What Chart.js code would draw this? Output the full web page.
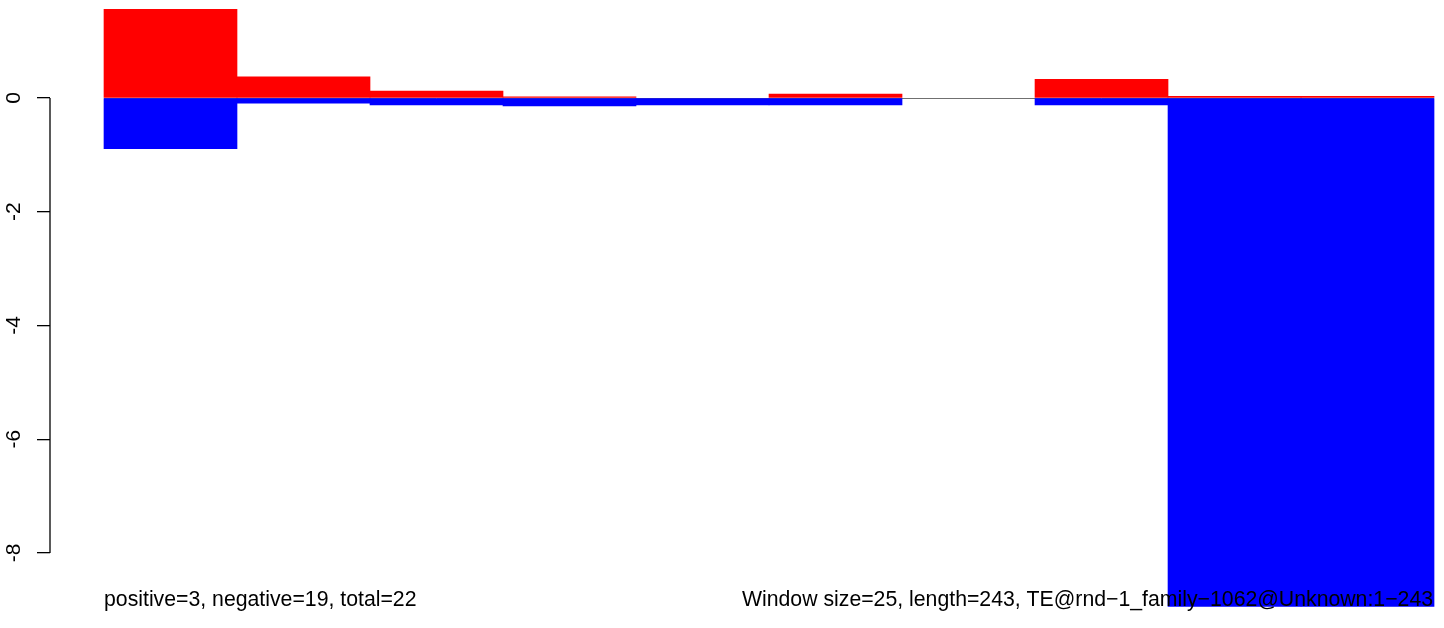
<!DOCTYPE html>
<html>
<head>
<meta charset="utf-8">
<script src="https://cdn.jsdelivr.net/npm/chart.js@4/dist/chart.umd.min.js"></script>
<style>
  html, body { margin: 0; padding: 0; background: #fff; }
  #wrap { width: 1444px; height: 628px; position: relative; }
</style>
</head>
<body>
<div id="wrap"><canvas id="chart"></canvas></div>
<script>
// window labels along the sequence (25 bp windows)
const windows = ['1-25', '26-50', '51-75', '76-100', '101-125', '126-150', '151-175', '176-200', '201-225', '226-243'];
const positiveScores = [1.56, 0.37, 0.12, 0.02, 0, 0.07, 0, 0.33, 0.03, 0.03];
const negativeScores = [-0.89, -0.09, -0.12, -0.14, -0.12, -0.12, 0, -0.12, -8.94, -8.94];
const yTicks = [0, -2, -4, -6, -8];
const leftNote = 'positive=3, negative=19, total=22';
const rightNote = 'Window size=25, length=243, TE@rnd\u22121_family\u22121062@Unknown:1\u2212243';

const FONT = '"Liberation Sans", Arial, sans-serif';

// bar centres on a linear x scale, one unit per window
const xCenters = windows.map((w, i) => i + 0.5);

const zeroLine = {
    id: 'zeroLine',
    beforeDatasetsDraw(chart) {
        const { ctx, scales: { x, y } } = chart;
        const yy = Math.round(y.getPixelForValue(0)) + 0.5;
        ctx.save();
        ctx.strokeStyle = '#707070';
        ctx.lineWidth = 1;
        ctx.beginPath();
        ctx.moveTo(x.getPixelForValue(0), yy);
        ctx.lineTo(x.getPixelForValue(windows.length), yy);
        ctx.stroke();
        ctx.restore();
    }
};

const axisAndNotes = {
    id: 'axisAndNotes',
    afterDraw(chart) {
        const { ctx, chartArea, scales: { x, y } } = chart;
        ctx.save();
        // R style axis line only spans the first to last tick
        ctx.strokeStyle = '#000';
        ctx.lineWidth = 1.3;
        ctx.beginPath();
        ctx.moveTo(chartArea.left, y.getPixelForValue(yTicks[0]));
        ctx.lineTo(chartArea.left, y.getPixelForValue(yTicks[yTicks.length - 1]));
        ctx.stroke();

        ctx.fillStyle = '#000';
        ctx.font = '21.25px ' + FONT;
        ctx.textBaseline = 'alphabetic';
        ctx.textAlign = 'left';
        ctx.fillText(leftNote, x.getPixelForValue(0), 606);
        ctx.textAlign = 'right';
        ctx.fillText(rightNote, x.getPixelForValue(windows.length) - 1, 606);
        ctx.restore();
    }
};

new Chart(document.getElementById('chart'), {
    type: 'bar',
    data: {
        datasets: [
            {
                label: 'positive',
                data: xCenters.map((c, i) => ({ x: c, y: positiveScores[i] || null })),
                backgroundColor: '#FF0000',
                borderWidth: 0,
                barPercentage: 1,
                categoryPercentage: 1,
            },
            {
                label: 'negative',
                data: xCenters.map((c, i) => ({ x: c, y: negativeScores[i] || null })),
                backgroundColor: '#0000FF',
                borderWidth: 0,
                barPercentage: 1,
                categoryPercentage: 1,
            },
        ],
    },
    options: {
        responsive: true,
        maintainAspectRatio: false,
        animation: false,
        layout: { padding: 0 },
        plugins: {
            legend: { display: false },
            tooltip: { enabled: false },
        },
        scales: {
            x: {
                type: 'linear',
                stacked: true,
                display: false,
                offset: false,
                grid: { offset: false },
                min: -0.406,
                max: 10.075,
                afterBuildTicks: (scale) => {
                    scale.ticks = xCenters.map(v => ({ value: v }));
                },
            },
            y: {
                stacked: true,
                min: -9.319,
                max: 1.723,
                afterBuildTicks: (scale) => {
                    scale.ticks = yTicks.map(v => ({ value: v }));
                },
                afterFit: (scale) => {
                    scale.width = 50;
                    scale.paddingTop = 0;
                    scale.paddingBottom = 0;
                },
                border: { display: false },
                grid: {
                    drawOnChartArea: false,
                    drawTicks: true,
                    tickLength: 13,
                    color: '#000',
                    lineWidth: 1.3,
                },
                ticks: {
                    minRotation: 90,
                    maxRotation: 90,
                    crossAlign: 'center',
                    padding: 13,
                    color: '#000',
                    font: { family: FONT, size: 21 },
                    callback: (v) => String(v),
                },
            },
        },
    },
    plugins: [zeroLine, axisAndNotes],
});
</script>
</body>
</html>
